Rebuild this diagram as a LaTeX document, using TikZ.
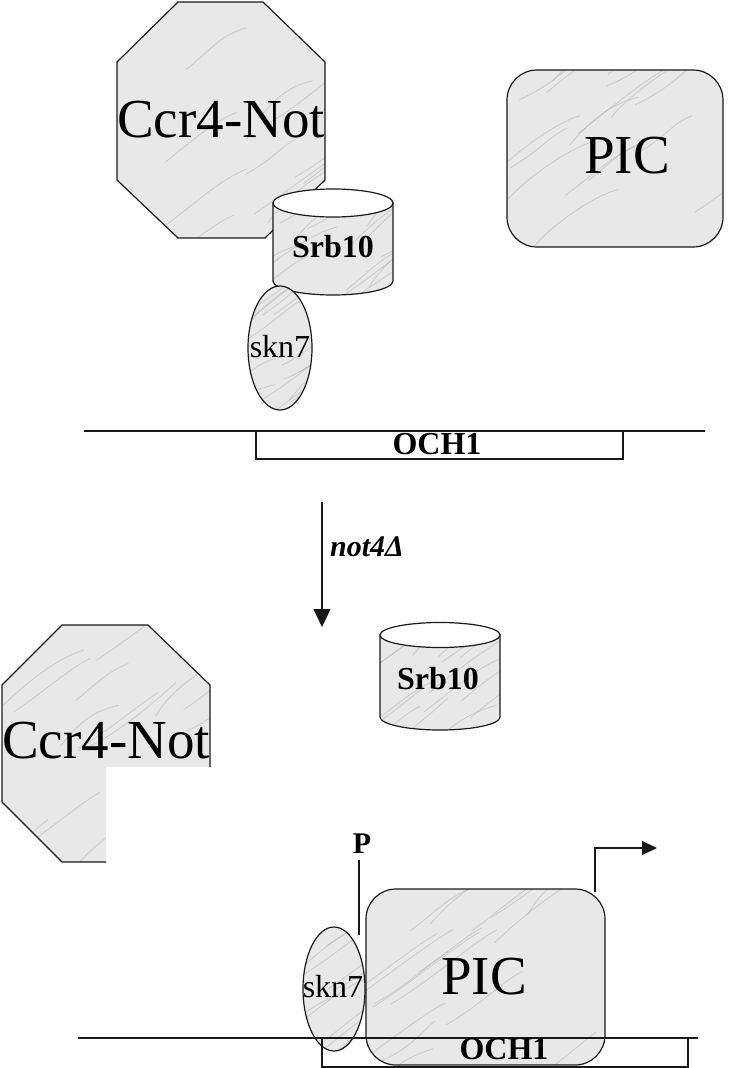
\documentclass[tikz,border=0pt]{standalone}
\usepackage{fontspec}
\setmainfont{Liberation Serif}
\usetikzlibrary{arrows.meta}
\tikzset{
  outl/.style={draw=black!90, line width=1.2pt},
  marble/.style={fill=black!9},
  vein/.style={draw=black!30, line width=0.8pt, opacity=0.55},
  bigtxt/.style={font=\fontsize{55}{60}\selectfont, inner sep=0pt, anchor=base},
  midtxt/.style={font=\fontsize{32}{34}\selectfont, inner sep=0pt, anchor=base},
  boldtxt/.style={font=\bfseries\fontsize{32}{34}\selectfont, inner sep=0pt, anchor=base},
  dna/.style={draw=black!90, line width=1.2pt},
  arr/.style={draw=black!90, line width=1.2pt},
}
\newcommand{\myveins}[4]{%
  \foreach \k in {1,...,18}{%
    \pgfmathsetmacro{\xa}{#1-40+rnd*(#3-#1+40)}%
    \pgfmathsetmacro{\ya}{#2+rnd*(#4-#2+40)}%
    \pgfmathsetmacro{\ca}{15+rnd*25}%
    \pgfmathsetmacro{\cb}{10+rnd*20}%
    \pgfmathsetmacro{\la}{50+rnd*60}%
    \draw[vein] (\xa,\ya) .. controls +(\ca,-\cb) and +(-\cb,\ca*0.3) .. +(\la,-\la*0.7);
  }}
\def\octA{(178,2) -- (263,2) -- (325,62) -- (325,180) -- (265,238) -- (178,238) -- (117,180) -- (117,62) -- cycle}
\def\octB{(62,625) -- (148,625) -- (210,685) -- (210,767) -- (106,767) -- (106,862) -- (62,862) -- (2,802) -- (2,685) -- cycle}
\def\cylA{(273,203) -- (273,281) .. controls (273,288.7) and (299.9,295) .. (333,295) .. controls (366.1,295) and (393,288.7) .. (393,281) -- (393,203) -- cycle}
\def\cylB{(380,635) -- (380,717) .. controls (380,724.2) and (406.9,730) .. (440,730) .. controls (473.1,730) and (500,724.2) .. (500,717) -- (500,635) -- cycle}
\def\picA{[rounded corners=30pt] (507,70) rectangle (723,247)}
\def\picB{[rounded corners=30pt] (366,889) rectangle (605,1065)}
\def\sknA{(280,348) ellipse [x radius=32, y radius=62]}
\def\sknB{(334,989) ellipse [x radius=31, y radius=62]}
\begin{document}
\begin{tikzpicture}[x=1pt,y=-1pt]
\pgfmathsetseed{7}
\useasboundingbox (0,0) rectangle (750,1068);
\fill[white] (0,0) rectangle (750,1068);

% ---------- upper state ----------
\begin{scope}
  \clip \octA;
  \fill[marble] (117,2) rectangle (325,238);
  \myveins{117}{2}{325}{238}
\end{scope}
\draw[outl] \octA;
\node[bigtxt] (ccrA) at (221,137) {Ccr4-Not};

\begin{scope}
  \clip \picA;
  \fill[marble] (507,70) rectangle (723,247);
  \myveins{507}{70}{723}{247}
\end{scope}
\draw[outl] \picA;
\node[bigtxt] (picA) at (627,173) {PIC};

\begin{scope}
  \clip \cylA;
  \fill[marble] (273,203) rectangle (393,295);
  \myveins{273}{203}{393}{295}
\end{scope}
\draw[outl] \cylA;
\draw[outl, fill=white] (333,203) ellipse [x radius=60, y radius=14];
\node[boldtxt] (srbA) at (333,257) {Srb10};

\begin{scope}
  \clip \sknA;
  \fill[marble] (248,286) rectangle (312,410);
  \myveins{248}{286}{312}{410}
\end{scope}
\draw[outl] \sknA;
\node[midtxt] (sknA) at (280,357) {skn7};

\coordinate (dnaAl) at (84,431);
\coordinate (dnaAr) at (705,431);
\draw[dna] (dnaAl) -- (dnaAr);
\draw[dna] (256,431) rectangle (623,459);
\node[boldtxt] (ochA) at (437,454) {OCH1};

% ---------- transition ----------
\coordinate (arrS) at (322,502);
\coordinate (arrE) at (322,627);
\draw[arr, -{Triangle[length=18pt,width=17pt]}] (arrS) -- (arrE);
\node[font=\bfseries\itshape\fontsize{30}{32}\selectfont, inner sep=0pt, anchor=base west] (mut) at (330,556) {not4Δ};

% ---------- lower state ----------
\begin{scope}
  \clip \cylB;
  \fill[marble] (380,635) rectangle (500,730);
  \myveins{380}{635}{500}{730}
\end{scope}
\draw[outl] \cylB;
\draw[outl, fill=white] (440,635) ellipse [x radius=60, y radius=12.5];
\node[boldtxt] (srbB) at (438,689) {Srb10};

\begin{scope}
  \clip \octB;
  \fill[marble] (2,625) rectangle (210,862);
  \myveins{2}{625}{210}{862}
\end{scope}
\draw[outl] (210,767) -- (210,685) -- (148,625) -- (62,625) -- (2,685) -- (2,802) -- (62,862) -- (106,862);
\node[bigtxt] (ccrB) at (106,758) {Ccr4-Not};

\begin{scope}
  \clip \picB;
  \fill[marble] (366,889) rectangle (605,1065);
  \myveins{366}{889}{605}{1065}
\end{scope}
\draw[outl] \picB;
\node[bigtxt] (picB) at (484,994) {PIC};

\begin{scope}
  \clip \sknB;
  \fill[marble] (303,927) rectangle (365,1051);
  \myveins{303}{927}{365}{1051}
\end{scope}
\draw[outl] \sknB;
\node[midtxt] (sknB) at (333,997) {skn7};

\coordinate (dnaBl) at (78,1038);
\coordinate (dnaBr) at (698,1038);
\draw[dna] (dnaBl) -- (dnaBr);
\draw[dna] (322,1038) rectangle (688,1067);
\node[boldtxt] (ochB) at (504,1059) {OCH1};

\coordinate (pTop) at (359,860);
\coordinate (pBot) at (359,935);
\draw[arr] (pTop) -- (pBot);
\node[font=\bfseries\fontsize{30}{32}\selectfont, inner sep=0pt, anchor=base] (P) at (362,853) {P};

\coordinate (txS) at (595,892);
\coordinate (txE) at (657,848);
\draw[arr, -{Triangle[length=15pt,width=14pt]}] (txS) |- (txE);
\end{tikzpicture}
\end{document}
